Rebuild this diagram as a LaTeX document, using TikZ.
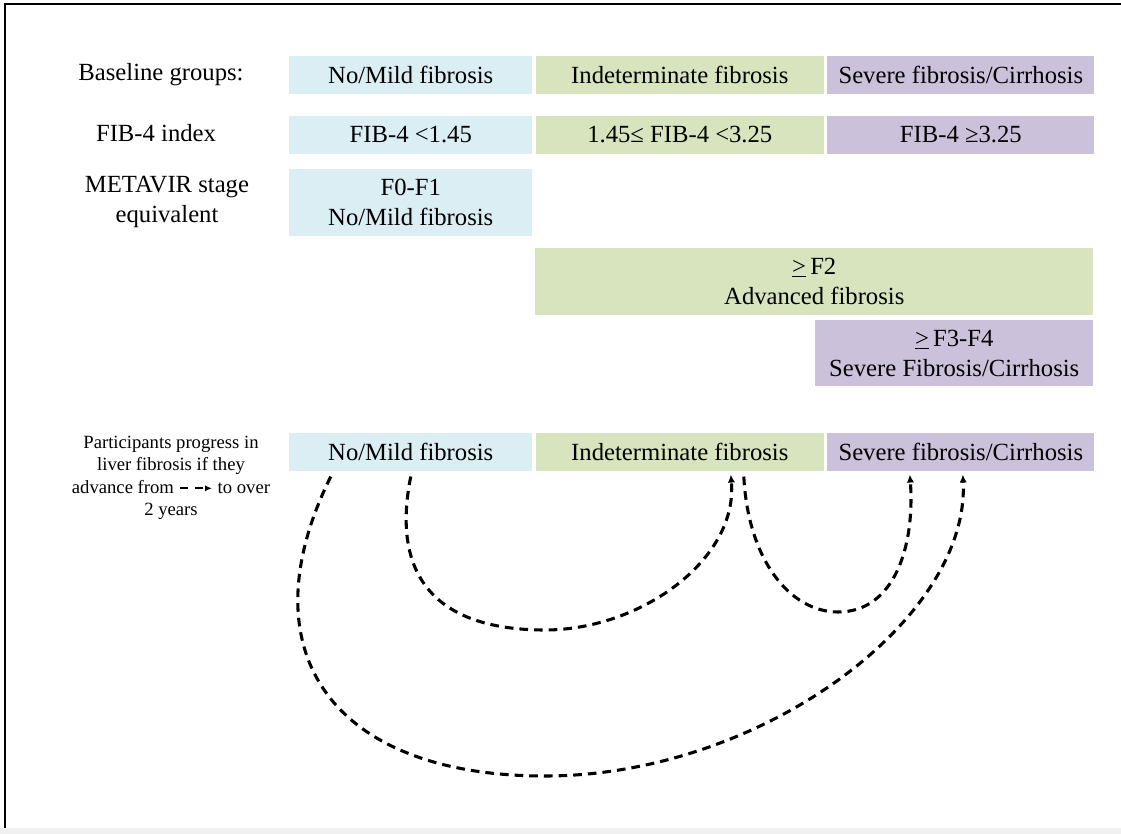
\documentclass[tikz,border=0pt]{standalone}
\usepackage{fontspec}
\setmainfont{Liberation Serif}
\usetikzlibrary{arrows.meta,positioning,calc}
\definecolor{mildblue}{HTML}{DBEEF4}
\definecolor{indetgreen}{HTML}{D7E4BD}
\definecolor{sevpurple}{HTML}{CCC1DA}
\tikzstyle{grp} = [rectangle, inner sep=0pt, align=center, minimum height=28.5pt, font=\fontsize{18.5}{22.5}\selectfont]
\tikzstyle{mild} = [grp, fill=mildblue, minimum width=182.25pt]
\tikzstyle{indet} = [grp, fill=indetgreen, minimum width=216pt]
\tikzstyle{sev} = [grp, fill=sevpurple, minimum width=200.25pt]
\tikzstyle{rowlabel} = [align=center, font=\fontsize{18.5}{22.5}\selectfont]
\tikzstyle{progline} = [draw, line width=2.3pt, dash pattern=on 6.5pt off 4.5pt, -{Latex[length=6pt,width=5.5pt]}]

\begin{document}
\begin{tikzpicture}[x=0.75pt, y=-0.75pt, node distance = 2.25pt]
        \useasboundingbox (0,0) rectangle (1121,834);
        \fill[gray!12] (0,828) rectangle (1121,834);
        \draw[line width=1.5pt] (5,828) -- (5,4) -- (1121,4);

        % baseline groups
        \node[mild, anchor=north west]              (mild1) at (289,56) {No/Mild fibrosis};
        \node[indet, right= of mild1]               (indet1) {Indeterminate fibrosis};
        \node[sev, right= of indet1]                (sev1) {Severe fibrosis/Cirrhosis};
        % FIB-4
        \node[mild, below=15.75pt of mild1]         (mild2) {FIB-4 <1.45};
        \node[indet, right= of mild2]               (indet2) {1.45≤ FIB-4 <3.25};
        \node[sev, right= of indet2]                (sev2) {FIB-4 ≥3.25};
        % METAVIR
        \node[mild, below=11.25pt of mild2, minimum height=50.25pt] (metamild) {F0-F1\\No/Mild fibrosis};
        \node[indet, anchor=north west, minimum width=418.5pt, minimum height=50.25pt] (metaadv) at (535,248) {\underline{>}\,F2\\Advanced fibrosis};
        \node[sev, anchor=north west, minimum width=208.5pt, minimum height=49.5pt] (metasev) at (815,320) {\underline{>}\,F3-F4\\Severe Fibrosis/Cirrhosis};
        % progression groups
        \node[mild, anchor=north west]              (mild6) at (289,433) {No/Mild fibrosis};
        \node[indet, right= of mild6]               (indet6) {Indeterminate fibrosis};
        \node[sev, right= of indet6]                (sev6) {Severe fibrosis/Cirrhosis};

        \node[rowlabel] (lblbase) at (161,75) {Baseline groups:};
        \node[rowlabel] (lblfib) at (156,133) {FIB-4 index};
        \node[rowlabel] (lblmeta) at (167,202) {METAVIR stage\\equivalent};
        \node[align=center, font=\fontsize{14}{16.9}\selectfont] (legend) at (171,478)
            {Participants progress in\\liver fibrosis if they\\advance from \tikz[baseline=-0.6ex]\draw[line width=1.8pt, dash pattern=on 6pt off 5pt, -{Latex[length=5pt,width=4.5pt]}] (0,0) -- (24pt,0); to over\\2 years};

        \coordinate (aS) at ($(mild6.south)+(0,5)$);
        \coordinate (aE) at ($(indet6.south)+(51,3)$);
        \coordinate (bS) at ($(mild6.south)+(-80,5)$);
        \coordinate (bE) at ($(sev6.south)+(2,3)$);
        \coordinate (cS) at ($(indet6.south)+(64,5)$);
        \coordinate (cE) at ($(sev6.south)+(-51,3)$);

        \path[progline] (aS) .. controls (390,580) and (440,630) .. (545,630)
                             .. controls (640,630) and (738,560) .. (aE);
        \path[progline] (bS) .. controls (245,650) and (330,776) .. (545,776)
                             .. controls (760,776) and (970,620) .. (bE);
        \path[progline] (cS) .. controls (748,560) and (790,612) .. (838,612)
                             .. controls (895,612) and (915,545) .. (cE);
\end{tikzpicture}
\end{document}
